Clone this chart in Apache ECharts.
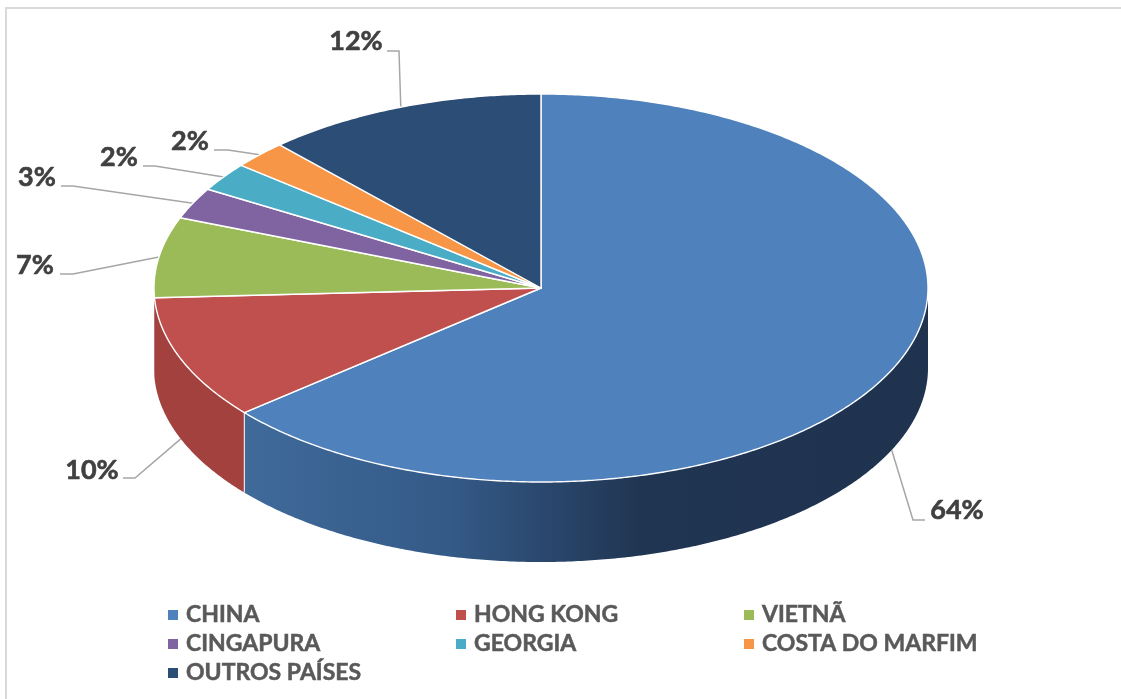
<!DOCTYPE html>
<html>
<head>
<meta charset="utf-8">
<style>html,body{margin:0;padding:0;background:#fff}#c{width:1121px;height:699px}</style>
<script src="https://cdn.jsdelivr.net/npm/echarts@6/dist/echarts.min.js"></script>
</head>
<body>
<div id="c"></div>
<script>
const categories = ['CHINA', 'HONG KONG', 'VIETNÃ', 'CINGAPURA', 'GEORGIA', 'COSTA DO MARFIM', 'OUTROS PAÍSES'];
const shares = [63.9, 10.3, 6.7, 2.6, 2.4, 2.3, 11.8];
const colors = ['#4f81bd', '#c0504d', '#9bbb59', '#8064a2', '#4bacc6', '#f79646', '#2c4d75'];
const sideColors = [null, '#a3413f', '#a3413f', '#664f82', '#3a8ba1', '#c67838', '#1f3a5c'];
// label centre and leader-line elbow, in page pixels
const labelCentres = [[957, 510], [92, 470], [35, 265], [37, 177], [119, 157], [190, 141], [356, 41]];
const leaderElbows = [[[913, 520], [925, 520]], [[135, 478], [123, 478]], [[73, 274], [60, 274]], [[73, 186], [61, 186]], [[155, 166], [143, 166]], [[228, 150], [214, 150]], [[399, 51], [387, 51]]];
const legendColumns = [[0, 3, 6], [1, 4], [2, 5]];
const legendLefts = [168, 456, 744];

const CX = 541, CY = 288, RX = 387, RY = 194, DEPTH = 80;
const total = shares.reduce((a, b) => a + b, 0);
const starts = [];
shares.reduce((acc, v, i) => { starts[i] = acc; return acc + v / total * 360; }, 0);
const pt = (deg, dy) => {
  const r = deg * Math.PI / 180;
  return [CX + RX * Math.sin(r), CY - RY * Math.cos(r) + (dy || 0)];
};
const chinaSide = new echarts.graphic.LinearGradient(245, 0, 930, 0, [
  { offset: 0, color: '#3f6a9a' },
  { offset: 0.3, color: '#345a87' },
  { offset: 0.58, color: '#203552' },
  { offset: 1, color: '#1f334f' }
], true);

function renderSlice(i) {
  const a0 = starts[i], a1 = a0 + shares[i] / total * 360, mid = (a0 + a1) / 2;
  const children = [];
  // outer wall, only the part that faces the viewer
  const w0 = Math.max(a0, 90), w1 = Math.min(a1, 270);
  if (w1 > w0) {
    const up = [], down = [];
    for (let a = w0; ; a += 0.5) {
      const t = Math.min(a, w1);
      up.push(pt(t, 0)); down.unshift(pt(t, DEPTH));
      if (t >= w1) break;
    }
    children.push({ type: 'polygon', z2: 1, shape: { points: up.concat(down) },
      style: { fill: i === 0 ? chinaSide : sideColors[i] } });
    if (a0 > 90 && a0 < 260) {
      const p = pt(a0, 0), q = pt(a0, DEPTH);
      children.push({ type: 'line', z2: 2, shape: { x1: p[0], y1: p[1], x2: q[0], y2: q[1] },
        style: { stroke: '#f0e4e4', lineWidth: 1.2 } });
    }
  }
  // top face
  const pts = [[CX, CY]];
  for (let a = a0; ; a += 0.5) {
    const t = Math.min(a, a1);
    pts.push(pt(t, 0));
    if (t >= a1) break;
  }
  children.push({ type: 'polygon', z2: 3, shape: { points: pts },
    style: { fill: colors[i], stroke: '#ffffff', lineWidth: 1.4, lineJoin: 'round' } });
  // leader line
  const onWall = mid > 90 && mid < 270 && (i === 0 || i === 1);
  const anchor = pt(mid, onWall ? DEPTH : 0);
  children.push({ type: 'polyline', z2: 2, shape: { points: [anchor].concat(leaderElbows[i]) },
    style: { stroke: '#a6a6a6', lineWidth: 1.5, fill: null } });
  // value label
  children.push({ type: 'text', z2: 5, style: {
    text: Math.round(shares[i]) + '%', x: labelCentres[i][0], y: labelCentres[i][1],
    textAlign: 'center', textVerticalAlign: 'middle',
    fill: '#404040', stroke: '#404040', lineWidth: 0.6, font: 'bold 27px Lato' } });
  return { type: 'group', children };
}

const chart = echarts.init(document.getElementById('c'), null, { renderer: 'canvas' });
chart.setOption({
  backgroundColor: '#ffffff',
  animation: false,
  graphic: [{ type: 'rect', silent: true, z: -1,
    shape: { x: 6, y: 8, width: 1400, height: 900 },
    style: { fill: '#ffffff', stroke: '#d9d9d9', lineWidth: 2 } }],
  legend: legendColumns.map((col, k) => ({
    orient: 'vertical', left: legendLefts[k], top: 602,
    padding: 0, itemGap: 3, itemWidth: 10, itemHeight: 10, icon: 'rect',
    selectedMode: false,
    data: col.map(i => categories[i]),
    textStyle: { color: '#595959', fontFamily: 'Lato', fontWeight: 'bold', fontSize: 23, lineHeight: 26,
      padding: [0, 0, 0, 3], textBorderColor: '#595959', textBorderWidth: 0.5 }
  })),
  series: categories.map((name, i) => ({
    type: 'custom', name, coordinateSystem: 'none', silent: true,
    itemStyle: { color: colors[i] },
    data: [[shares[i]]],
    renderItem: () => renderSlice(i)
  }))
});
</script>
</body>
</html>
